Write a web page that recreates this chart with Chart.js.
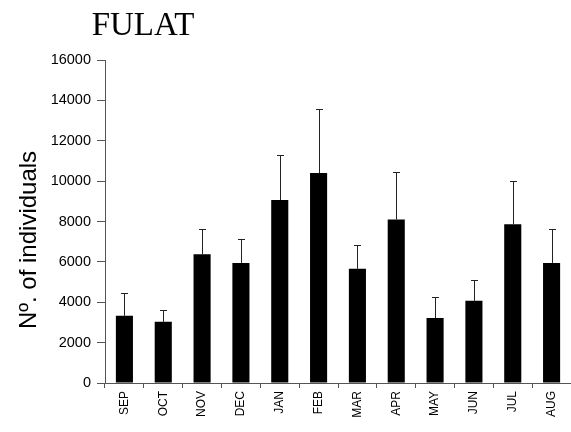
<!DOCTYPE html>
<html>
<head>
<meta charset="utf-8">
<script src="https://cdn.jsdelivr.net/npm/chart.js@4"></script>
<style>
  html, body { margin: 0; padding: 0; background: #fff; }
  #wrap { width: 571px; height: 432px; }
</style>
</head>
<body>
<div id="wrap"><canvas id="chart"></canvas></div>
<script>
const months = ['SEP', 'OCT', 'NOV', 'DEC', 'JAN', 'FEB', 'MAR', 'APR', 'MAY', 'JUN', 'JUL', 'AUG'];
const meanValues = [3330, 3030, 6380, 5950, 9060, 10400, 5660, 8100, 3220, 4070, 7860, 5950];
const upperError = [4440, 3640, 7650, 7130, 11310, 13560, 6860, 10440, 4260, 5080, 10010, 7650];
const yTicks = [0, 2000, 4000, 6000, 8000, 10000, 12000, 14000, 16000];
const yTitle = 'Nº. of individuals';

// error bars drawn on top of the bars (upper whisker only)
const errorBars = {
    id: 'errorBars',
    afterDatasetsDraw(chart) {
        const ctx = chart.ctx;
        const meta = chart.getDatasetMeta(0);
        const y = chart.scales.y;
        ctx.save();
        ctx.strokeStyle = '#222';
        ctx.lineWidth = 1;
        meta.data.forEach((bar, i) => {
            const x = Math.round(bar.x) + 0.5;
            const top = Math.round(y.getPixelForValue(upperError[i])) + 0.5;
            ctx.beginPath();
            ctx.moveTo(x, bar.y);
            ctx.lineTo(x, top);
            ctx.moveTo(x - 3.5, top);
            ctx.lineTo(x + 3.5, top);
            ctx.stroke();
        });
        ctx.restore();
    }
};

// chart title and y axis title sit off-centre in the original, so place them by hand
const titles = {
    id: 'titles',
    afterDraw(chart) {
        const ctx = chart.ctx;
        ctx.save();
        ctx.font = '33px "Liberation Serif", "Times New Roman", serif';
        ctx.fillStyle = '#000';
        ctx.textAlign = 'center';
        ctx.textBaseline = 'alphabetic';
        ctx.fillText('FULAT', 143, 35);

        ctx.font = '24px Arial, "Liberation Sans", sans-serif';
        ctx.translate(36, 240);
        ctx.rotate(-Math.PI / 2);
        ctx.fillText(yTitle, 0, 0);
        ctx.restore();
    }
};

new Chart(document.getElementById('chart'), {
    type: 'bar',
    data: {
        labels: months,
        datasets: [{
            data: meanValues,
            backgroundColor: '#000',
            borderWidth: 0,
            barPercentage: 0.44,
            categoryPercentage: 1,
        }]
    },
    options: {
        responsive: true,
        maintainAspectRatio: false,
        animation: false,
        layout: { padding: { top: 60, right: 0, left: 0, bottom: 0 } },
        plugins: {
            legend: { display: false },
            tooltip: { enabled: false },
        },
        scales: {
            x: {
                offset: true,
                grid: {
                    offset: true,
                    drawOnChartArea: false,
                    drawTicks: true,
                    tickLength: 5,
                    color: '#555',
                },
                border: { color: '#555', width: 1 },
                ticks: {
                    color: '#000',
                    font: { family: 'Arial, "Liberation Sans", sans-serif', size: 12 },
                    maxRotation: 90,
                    minRotation: 90,
                    padding: 3,
                    autoSkip: false,
                },
                afterFit(scale) { scale.height = 49; },
            },
            y: {
                min: 0,
                max: 16000,
                afterBuildTicks(scale) { scale.ticks = yTicks.map(v => ({ value: v })); },
                grid: {
                    drawOnChartArea: false,
                    drawTicks: true,
                    tickLength: 8,
                    color: '#555',
                },
                border: { color: '#555', width: 1 },
                ticks: {
                    color: '#000',
                    font: { family: 'Arial, "Liberation Sans", sans-serif', size: 14.5 },
                    padding: 6,
                    callback: v => String(v),
                },
                afterFit(scale) { scale.width = 105; },
            }
        }
    },
    plugins: [errorBars, titles]
});
</script>
</body>
</html>
